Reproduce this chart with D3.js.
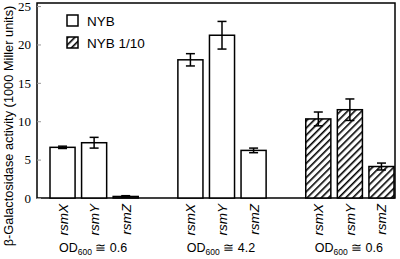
<!DOCTYPE html>
<html>
<head>
<meta charset="utf-8">
<script src="https://cdn.jsdelivr.net/npm/d3@7"></script>
<style>
  body { margin: 0; background: #fff; }
  text { font-family: "Liberation Sans", Arial, sans-serif; }
</style>
</head>
<body>
<script>
var groups = ["OD1", "OD2", "OD3"];
var groupLabels = ["0.6", "4.2", "0.6"];
var genes = ["rsmX", "rsmY", "rsmZ"];
var media = ["NYB", "NYB", "NYB 1/10"];
var means = [[6.6, 7.2, 0.2], [18.0, 21.2, 6.2], [10.3, 11.5, 4.1]];
var errs = [[0.15, 0.7, 0.1], [0.8, 1.8, 0.3], [0.9, 1.4, 0.45]];
var yTicks = [0, 5, 10, 15, 20, 25];

var data = [];
groups.forEach(function(g, i) {
  genes.forEach(function(s, j) {
    data.push({group: g, gene: s, medium: media[i], v: means[i][j], e: errs[i][j]});
  });
});

var W = 400, H = 259;
var plotL = 37, plotR = 395, plotT = 3, plotB = 198;

var svg = d3.select("body").append("svg")
    .attr("width", W)
    .attr("height", H);

var defs = svg.append("defs");
var pat = defs.append("pattern")
    .attr("id", "hatch")
    .attr("patternUnits", "userSpaceOnUse")
    .attr("width", 5)
    .attr("height", 5)
    .attr("patternTransform", "rotate(45)");
pat.append("rect").attr("width", 5).attr("height", 5).attr("fill", "#fff");
pat.append("line")
    .attr("x1", 0).attr("y1", 0).attr("x2", 0).attr("y2", 5)
    .attr("stroke", "#000").attr("stroke-width", 3.2);

var x0 = d3.scaleBand()
    .domain(groups)
    .range([50, 394])
    .paddingInner(0.31)
    .paddingOuter(0);

var x1 = d3.scaleBand()
    .domain(genes)
    .range([0, x0.bandwidth()])
    .paddingInner(0.206);

var y = d3.scaleLinear()
    .domain([0, 25.4])
    .range([plotB, plotT]);

var color = function(m) { return m === "NYB" ? "#fff" : "url(#hatch)"; };

// frame
svg.append("rect")
    .attr("x", plotL).attr("y", plotT)
    .attr("width", plotR - plotL).attr("height", plotB - plotT)
    .attr("fill", "none").attr("stroke", "#000").attr("stroke-width", 1.5);

// y axis ticks + labels
var yAxis = d3.axisLeft(y).tickValues(yTicks).tickSize(-4).tickPadding(6);
var ya = svg.append("g")
    .attr("transform", "translate(" + plotL + ",0)")
    .call(yAxis);
ya.select(".domain").remove();
ya.selectAll("line").attr("stroke", "#999");
ya.selectAll("text")
    .style("font-family", "'Liberation Serif', 'Times New Roman', serif")
    .style("font-size", "13px")
    .attr("fill", "#000");

svg.append("text")
    .attr("transform", "translate(13," + 126 + ") rotate(-90)")
    .style("text-anchor", "middle")
    .style("font-size", "12.8px")
    .text("\u03b2-Galactosidase activity (1000 Miller units)");

// bars
var bar = svg.selectAll(".bar")
    .data(data)
  .enter().append("g")
    .attr("transform", function(d) { return "translate(" + (x0(d.group) + x1(d.gene)) + ",0)"; });

bar.append("rect")
    .attr("y", function(d) { return y(d.v); })
    .attr("width", x1.bandwidth())
    .attr("height", function(d) { return y(0) - y(d.v); })
    .attr("fill", function(d) { return color(d.medium); })
    .attr("stroke", "#000")
    .attr("stroke-width", 1.5);

var cx = x1.bandwidth() / 2;
bar.append("line")
    .attr("x1", cx).attr("x2", cx)
    .attr("y1", function(d) { return y(d.v + d.e); })
    .attr("y2", function(d) { return y(d.v - d.e); })
    .attr("stroke", "#000").attr("stroke-width", 1.5);
bar.append("line")
    .attr("x1", cx - 4.5).attr("x2", cx + 4.5)
    .attr("y1", function(d) { return y(d.v + d.e); })
    .attr("y2", function(d) { return y(d.v + d.e); })
    .attr("stroke", "#000").attr("stroke-width", 1.5);
bar.append("line")
    .attr("x1", cx - 4.5).attr("x2", cx + 4.5)
    .attr("y1", function(d) { return y(d.v - d.e); })
    .attr("y2", function(d) { return y(d.v - d.e); })
    .attr("stroke", "#000").attr("stroke-width", 1.5);

// gene labels
bar.append("text")
    .attr("transform", "translate(" + (cx + 5) + ",204) rotate(-90)")
    .style("text-anchor", "end")
    .style("font-size", "13.5px")
    .style("font-style", "italic")
    .text(function(d) { return d.gene; });

// group labels
var gl = svg.selectAll(".glabel")
    .data(groups)
  .enter().append("text")
    .attr("x", function(d) { return x0(d) + x0.bandwidth() / 2 - 1; })
    .attr("y", 252)
    .style("text-anchor", "middle")
    .style("font-size", "12.5px");
gl.append("tspan").text("OD");
gl.append("tspan").attr("dy", 3).style("font-size", "8.5px").text("600");
gl.append("tspan").attr("dy", -3).text(function(d, i) { return " \u2245 " + groupLabels[i]; });

// legend
var legend = svg.selectAll(".legend")
    .data(["NYB", "NYB 1/10"])
  .enter().append("g")
    .attr("transform", function(d, i) { return "translate(67," + (15 + i * 22) + ")"; });

legend.append("rect")
    .attr("width", 11)
    .attr("height", 11)
    .attr("fill", color)
    .attr("stroke", "#000")
    .attr("stroke-width", 1.5);

legend.append("text")
    .attr("x", 20)
    .attr("y", 11)
    .style("font-size", "13.5px")
    .text(function(d) { return d; });
</script>
</body>
</html>
